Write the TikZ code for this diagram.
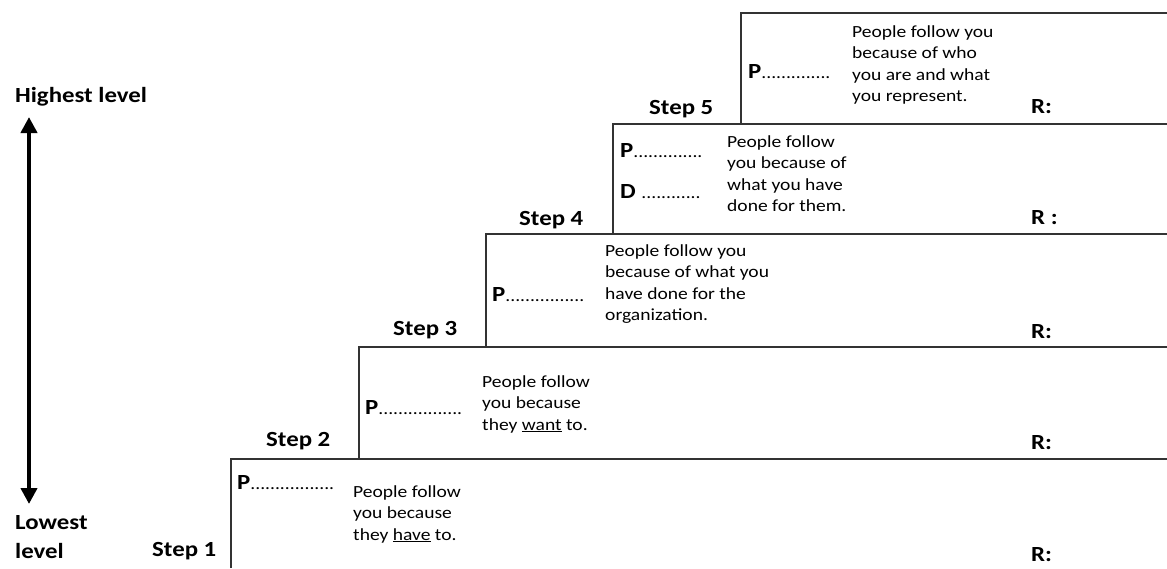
\documentclass[tikz,border=0pt]{standalone}
\usepackage{fontspec}
\setmainfont{Carlito}[FakeStretch=1.15]
\usetikzlibrary{arrows.meta}
\newcommand{\dotline}[1]{{\fontsize{17}{20}\selectfont\mdseries #1}}

\tikzset{
  lbl/.style={anchor=west, inner sep=0pt, font=\fontsize{21.6}{25}\selectfont\bfseries},
  txt/.style={anchor=north west, inner sep=0pt, align=left, font=\fontsize{17}{21.5}\selectfont},
  stair/.style={line width=1.6pt, draw=black!80},
  levelarrow/.style={line width=4pt, {Triangle[width=16pt,length=16pt]}-{Triangle[width=16pt,length=16pt]}},
}

\begin{document}
\begin{tikzpicture}[x=1pt,y=-1pt]
  \useasboundingbox (0,0) rectangle (1167,568);
  \foreach \x/\top/\bot in {231/459/568, 359/347/459, 486/234/347, 613/124/234, 741/13/124}
    \draw[stair] (\x,\bot) -- (\x,\top) -- (1167,\top);

  \node[lbl] (hi) at (15,97) {Highest level};
  \node[lbl] (lo1) at (15,523) {Lowest};
  \node[lbl] (lo2) at (15,551) {level};
  \coordinate (up) at (29,117);
  \coordinate (down) at (29,504);
  \draw[levelarrow] (up) -- (down);

  \node[lbl] (s1) at (152,551) {Step 1};
  \node[lbl] (s2) at (266,441) {Step 2};
  \node[lbl] (s3) at (393,330) {Step 3};
  \node[lbl] (s4) at (519,220) {Step 4};
  \node[lbl] (s5) at (649,109) {Step 5};

  \node[lbl] (p1) at (237,483) {P\dotline{.................}};
  \node[lbl] (p2) at (365,408) {P\dotline{.................}};
  \node[lbl] (p3) at (492,295) {P\dotline{................}};
  \node[lbl] (p4) at (620,151) {P\dotline{..............}};
  \node[lbl] (d4) at (620,192) {D \dotline{............}};
  \node[lbl] (p5) at (748,72) {P\dotline{..............}};

  \node[txt] (t1) at (353,485) {People follow\\you because\\they \underline{have} to.};
  \node[txt] (t2) at (482,375) {People follow\\you because\\they \underline{want} to.};
  \node[txt] (t3) at (605,244) {People follow you\\because of what you\\have done for the\\organization.};
  \node[txt] (t4) at (727,135) {People follow\\you because of\\what you have\\done for them.};
  \node[txt] (t5) at (852,25) {People follow you\\because of who\\you are and what\\you represent.};

  \node[lbl] (r1) at (1031,555) {R:};
  \node[lbl] (r2) at (1031,443) {R:};
  \node[lbl] (r3) at (1031,332) {R:};
  \node[lbl] (r4) at (1031,218) {R :};
  \node[lbl] (r5) at (1031,107) {R:};
\end{tikzpicture}
\end{document}
